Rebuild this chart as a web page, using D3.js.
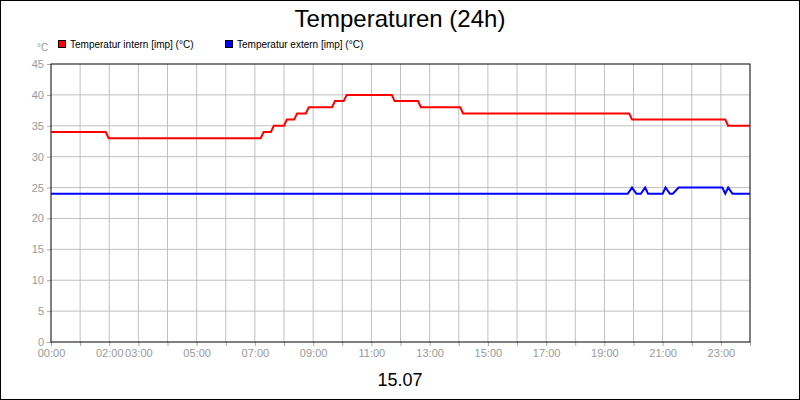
<!DOCTYPE html>
<html><head><meta charset="utf-8">
<script src="https://cdn.jsdelivr.net/npm/d3@7"></script>
<style>body{margin:0;background:#fff}svg{display:block}</style></head>
<body><svg id="c" width="800" height="400"></svg>
<script>
const title = "Temperaturen (24h)";
const dateLabel = "15.07";
const seriesNames = ["Temperatur intern [imp] (°C)", "Temperatur extern [imp] (°C)"];
const seriesColors = ["#ff0000", "#0000ff"];
const yTicks = [0,5,10,15,20,25,30,35,40,45];
const xTickLabels = ["00:00","02:00","03:00","05:00","07:00","09:00","11:00","13:00","15:00","17:00","19:00","21:00","23:00"];
const xTickHours = [0,2,3,5,7,9,11,13,15,17,19,21,23];
// intern: hours, values
const internT = [0,1.88,1.98,7.2,7.3,7.55,7.65,8.0,8.1,8.35,8.45,8.75,8.85,9.65,9.75,10.05,10.15,11.7,11.8,12.6,12.7,14.05,14.15,19.85,19.95,23.15,23.25,24];
const internV = [34,34,33,33,34,34,35,35,36,36,37,37,38,38,39,39,40,40,39,39,38,38,37,37,36,36,35,35];
// extern
const externT = [0,19.8,19.95,20.1,20.25,20.4,20.5,20.65,21.0,21.1,21.25,21.35,21.55,21.7,23.05,23.15,23.25,23.4,23.55,24];
const externV = [24,24,25,24,24,25,24,24,24,25,24,24,25,25,25,24,25,24,24,24];

const svg = d3.select("#c");
svg.append("rect").attr("x",0.5).attr("y",0.5).attr("width",799).attr("height",399).attr("fill","#fff").attr("stroke","#000");
const x = d3.scaleLinear().domain([0,24]).range([51,750]);
const y = d3.scaleLinear().domain([0,45]).range([342,64]);
const f = "Liberation Sans Narrow, Liberation Sans, sans-serif";

// grid
svg.append("g").selectAll("line").data(d3.range(1,24)).join("line")
 .attr("x1",d=>x(d)).attr("x2",d=>x(d)).attr("y1",64).attr("y2",342).attr("stroke","#c0c0c0");
svg.append("g").selectAll("line").data(yTicks.slice(1,-1)).join("line")
 .attr("x1",51).attr("x2",750).attr("y1",d=>y(d)).attr("y2",d=>y(d)).attr("stroke","#c0c0c0");

// y axis
const ya = svg.append("g").attr("transform","translate(51,0)")
 .call(d3.axisLeft(y).tickValues(yTicks).tickSize(4).tickPadding(3));
ya.select(".domain").remove();
ya.selectAll("line").attr("stroke","#aaa");
ya.selectAll("text").attr("fill","#999").style("font-family",f).style("font-size","11px");
// x axis
const xa = svg.append("g").attr("transform","translate(0,342)")
 .call(d3.axisBottom(x).tickValues(d3.range(0,25)).tickSize(4).tickFormat(d=>{const i=xTickHours.indexOf(d);return i>=0?xTickLabels[i]:"";}).tickPadding(3));
xa.select(".domain").remove();
xa.selectAll("line").attr("stroke","#aaa");
xa.selectAll("text").attr("fill","#999").style("font-family",f).style("font-size","11px");

// frame
svg.append("rect").attr("x",51).attr("y",64).attr("width",699).attr("height",278).attr("fill","none").attr("stroke","#000");

const line = d3.line().x(d=>x(d[0])).y(d=>y(d[1]));
[[internT,internV],[externT,externV]].forEach((s,i)=>{
 svg.append("path").datum(s[0].map((t,j)=>[t,s[1][j]])).attr("d",line)
  .attr("fill","none").attr("stroke",seriesColors[i]).attr("stroke-width",2);
});

// titles
svg.append("text").attr("x",400).attr("y",27).attr("text-anchor","middle").style("font-family","Liberation Sans, Arial, sans-serif").style("font-size","24px").text(title);
svg.append("text").attr("x",400).attr("y",386).attr("text-anchor","middle").style("font-family","Liberation Sans, Arial, sans-serif").style("font-size","18px").text(dateLabel);
svg.append("text").attr("x",37).attr("y",51).attr("fill","#999").style("font-family",f).style("font-size","10px").text("°C");
// legend
const lx=[58,225];
seriesNames.forEach((n,i)=>{
 svg.append("rect").attr("x",lx[i]+0.5).attr("y",40.5).attr("width",7).attr("height",7).attr("fill",seriesColors[i]).attr("stroke","#000");
 svg.append("text").attr("x",lx[i]+12).attr("y",48).style("font-family","Liberation Sans, Arial, sans-serif").style("font-size","10px").text(n);
});
</script></body></html>
